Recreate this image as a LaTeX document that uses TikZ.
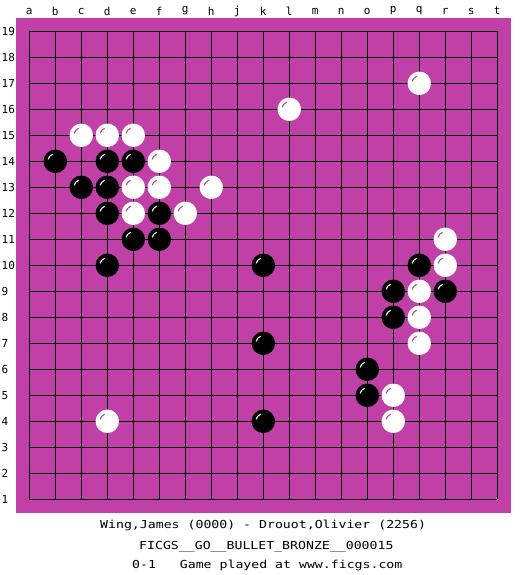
\documentclass[tikz,border=0pt]{standalone}
\usepackage{fontspec}
\setmonofont{DejaVu Sans Mono}
\newfontfamily\widemono[FakeStretch=1.2]{DejaVu Sans Mono}
\usetikzlibrary{positioning}
\definecolor{boardmag}{HTML}{C040A8}

\begin{document}
\begin{tikzpicture}[x=1pt,y=-1pt,font=\ttfamily,
  stone/.style={circle,minimum size=23.5pt,inner sep=0pt},
  blackstone/.style={stone,fill=black},
  whitestone/.style={stone,fill=white},
  shine/.style={line width=1.1pt},
  coordlabel/.style={font=\fontsize{11}{11}\selectfont\ttfamily,inner sep=0pt},
  caption/.style={font=\fontsize{11}{12}\selectfont\widemono,anchor=west,inner sep=0pt}]
  \useasboundingbox (0,0) rectangle (525,575);
  % board
  \fill[boardmag] (16,18) rectangle (511,513);
  \foreach \i in {0,...,18} {
    \draw[line width=1.2pt] (29.3+\i*26,31.3) -- (29.3+\i*26,499.3);
    \draw[line width=1.2pt] (29.3,31.3+\i*26) -- (497.3,31.3+\i*26);
  }
  % coordinates
  \foreach \l [count=\c] in {a,b,c,d,e,f,g,h,j,k,l,m,n,o,p,q,r,s,t}
    \node[coordlabel] (col\l) at (3.3+26*\c,11) {\l};
  \foreach \r in {1,...,19}
    \node[coordlabel,anchor=west] (row\r) at (1.5,525.3-26*\r) {\r};
  % black stones
  \foreach \n/\c/\r in {b14/2/14,c13/3/13,d14/4/14,d13/4/13,d12/4/12,e14/5/14,
      e11/5/11,f12/6/12,f11/6/11,d10/4/10,k10/10/10,k7/10/7,k4/10/4,
      o6/14/6,o5/14/5,p9/15/9,p8/15/8,q10/16/10,r9/17/9} {
    \node[blackstone] (\n) at (3.3+26*\c,525.3-26*\r) {};
    \draw[shine,white] (\n.center) ++(195:7.5) arc[start angle=195,end angle=250,radius=7.5];
  }
  % white stones
  \foreach \n/\c/\r in {c15/3/15,d15/4/15,e15/5/15,f14/6/14,e13/5/13,f13/6/13,
      h13/8/13,e12/5/12,g12/7/12,l16/11/16,q17/16/17,r11/17/11,r10/17/10,
      q9/16/9,q8/16/8,q7/16/7,p5/15/5,p4/15/4,d4/4/4} {
    \node[whitestone] (\n) at (3.3+26*\c,525.3-26*\r) {};
    \draw[shine,boardmag] (\n.center) ++(195:7.5) arc[start angle=195,end angle=250,radius=7.5];
  }
  % game info
  \node[caption] (players) at (100,525) {Wing,James (0000) - Drouot,Olivier (2256)};
  \node[caption] (event) at (139,547) {FICGS\_\_GO\_\_BULLET\_BRONZE\_\_000015};
  \node[caption] (result) at (132,565) {0-1\ \ \ Game played at www.ficgs.com};
\end{tikzpicture}
\end{document}
